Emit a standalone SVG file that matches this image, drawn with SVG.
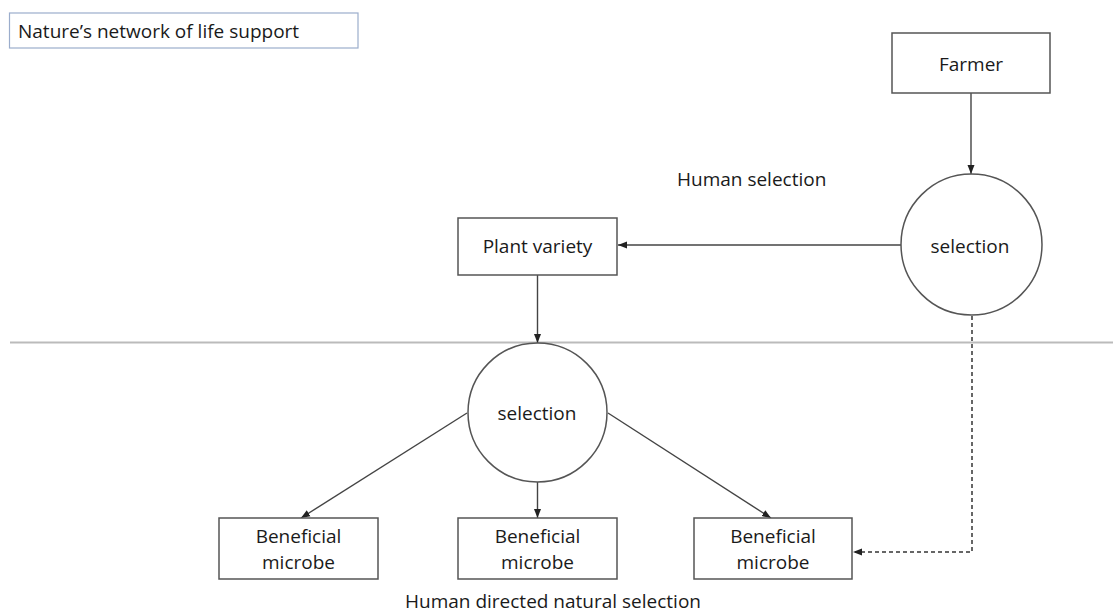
<svg xmlns="http://www.w3.org/2000/svg" width="1113" height="614" viewBox="0 0 1113 614">
<style>
text{font-family:"Open Sans","Liberation Sans",sans-serif;font-size:19px;fill:#1a1a1a}
.c{text-anchor:middle}
.box{fill:#fff;stroke:#555;stroke-width:1.5}
.conn{fill:none;stroke:#444;stroke-width:1.4}
.dash{fill:none;stroke:#666;stroke-width:2;stroke-dasharray:4 3}
</style>
<defs>
<marker id="ah" markerUnits="userSpaceOnUse" markerWidth="10" markerHeight="10" viewBox="0 0 10 10" refX="9" refY="5" orient="auto">
<path d="M0,1.5 L9,5 L0,8.5 Z" fill="#222"/>
</marker>
</defs>
<rect width="1113" height="614" fill="#fff"/>
<g id="title">
<rect x="9.5" y="13" width="348.5" height="35" fill="#fff" stroke="#9badcc" stroke-width="1.2"/>
<text x="18" y="38">Nature’s network of life support</text>
</g>
<line id="divider" x1="10" y1="342.5" x2="1113" y2="342.5" stroke="#bbb" stroke-width="2"/>
<g id="connectors">
<line class="conn" x1="971" y1="93" x2="971" y2="174" marker-end="url(#ah)"/>
<line class="conn" x1="901" y1="245" x2="618" y2="245" marker-end="url(#ah)"/>
<line class="conn" x1="537.5" y1="275" x2="537.5" y2="343" marker-end="url(#ah)"/>
<line class="conn" x1="467" y1="413" x2="301" y2="518" marker-end="url(#ah)"/>
<line class="conn" x1="537.5" y1="482" x2="537.5" y2="518" marker-end="url(#ah)"/>
<line class="conn" x1="608" y1="413" x2="771" y2="518" marker-end="url(#ah)"/>
<path class="dash" d="M972,316 L972,552 L855,552"/>
<path d="M862,548.5 L853,552 L862,555.5 Z" fill="#222"/>
</g>
<g id="farmer">
<rect class="box" x="892" y="33" width="158" height="60"/>
<text class="c" x="971" y="71">Farmer</text>
</g>
<g id="selection-top">
<circle cx="971.5" cy="244.5" r="70.5" fill="#fff" stroke="#555" stroke-width="1.5"/>
<text class="c" x="970" y="253">selection</text>
</g>
<g id="human-selection-label">
<text x="677" y="186">Human selection</text>
</g>
<g id="plant-variety">
<rect class="box" x="458" y="218" width="159" height="57"/>
<text class="c" x="537.5" y="253">Plant variety</text>
</g>
<g id="selection-bottom">
<circle cx="537.5" cy="412.5" r="69.5" fill="#fff" stroke="#555" stroke-width="1.5"/>
<text class="c" x="537" y="420">selection</text>
</g>
<g id="microbe-1">
<rect class="box" x="219" y="518" width="159" height="61"/>
<text class="c" x="298.5" y="543">Beneficial</text>
<text class="c" x="298.5" y="569">microbe</text>
</g>
<g id="microbe-2">
<rect class="box" x="458" y="518" width="159" height="61"/>
<text class="c" x="537.5" y="543">Beneficial</text>
<text class="c" x="537.5" y="569">microbe</text>
</g>
<g id="microbe-3">
<rect class="box" x="694" y="518" width="158" height="61"/>
<text class="c" x="773" y="543">Beneficial</text>
<text class="c" x="773" y="569">microbe</text>
</g>
<g id="human-directed-label">
<text x="405" y="608">Human directed natural selection</text>
</g>
</svg>
